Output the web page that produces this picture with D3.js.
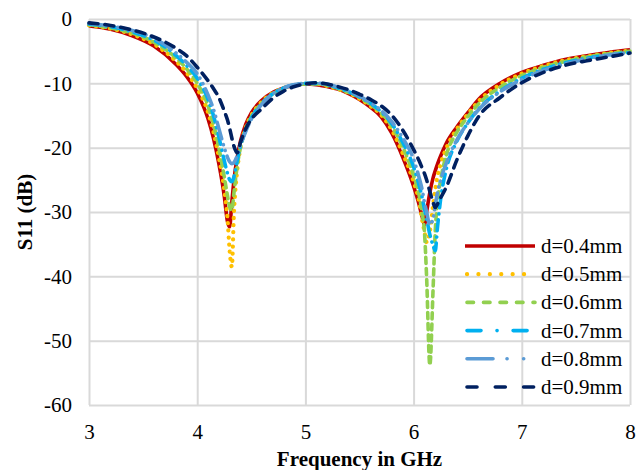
<!DOCTYPE html>
<html>
<head>
<meta charset="utf-8">
<script src="https://cdn.jsdelivr.net/npm/d3@7"></script>
</head>
<body style="margin:0">
<div id="chart"></div>
<script>
// frequency grid (GHz), denser near the two resonances
const freq = [3.0, 3.2, 3.4, 3.6, 3.8, 3.9, 4.0, 4.1, 4.15, 4.2, 4.25, 4.28, 4.3, 4.32, 4.34, 4.37, 4.4, 4.45, 4.5, 4.6,
  4.7, 4.8, 4.9, 5.0, 5.1, 5.2, 5.3, 5.4, 5.5, 5.6, 5.7, 5.8, 5.9, 6.0, 6.05, 6.08, 6.1, 6.12, 6.15, 6.18,
  6.2, 6.22, 6.25, 6.3, 6.4, 6.5, 6.6, 6.8, 7.0, 7.2, 7.4, 7.6, 7.8, 8.0];

// S11 in dB for each gap d
const s11_04 = [-1.1, -1.6, -2.6, -4.2, -7.0, -8.9, -11.5, -15.5, -18.5, -22.5, -27.5, -31.5, -32.3, -28.5, -25.0, -21.5, -19.0, -16.3, -14.6, -12.6,
  -11.4, -10.7, -10.3, -10.1, -10.2, -10.5, -10.9, -11.6, -12.5, -13.7, -15.2, -17.8, -21.5, -26.0, -28.8, -30.8, -32.0, -30.0, -27.0, -24.7,
  -23.6, -22.6, -21.3, -19.4, -16.8, -14.6, -12.5, -10.0, -8.3, -7.2, -6.3, -5.7, -5.2, -4.8];
const s11_05 = [-1.0, -1.5, -2.4, -3.9, -6.5, -8.3, -10.8, -14.5, -17.5, -21.5, -26.5, -31.0, -36.0, -38.5, -30.0, -23.5, -20.0, -16.8, -15.0, -12.8,
  -11.5, -10.7, -10.3, -10.1, -10.1, -10.4, -10.9, -11.5, -12.4, -13.5, -14.9, -17.3, -20.9, -25.3, -28.3, -31.3, -33.0, -34.7, -33.0, -29.0,
  -26.5, -24.5, -22.5, -20.2, -17.1, -14.8, -12.8, -10.2, -8.5, -7.3, -6.4, -5.8, -5.3, -4.9];
const s11_06 = [-0.9, -1.4, -2.2, -3.6, -6.0, -7.7, -10.0, -13.5, -16.3, -20.0, -24.5, -27.5, -29.2, -29.7, -27.0, -22.8, -20.0, -17.0, -15.2, -13.0,
  -11.6, -10.8, -10.3, -10.1, -10.1, -10.3, -10.8, -11.4, -12.2, -13.3, -14.6, -16.7, -19.9, -24.3, -27.3, -30.3, -33.0, -40.0, -53.8, -42.0,
  -33.0, -28.5, -25.0, -21.3, -17.6, -15.2, -13.2, -10.6, -8.8, -7.5, -6.6, -5.9, -5.4, -5.0];
const s11_07 = [-0.8, -1.2, -2.0, -3.3, -5.6, -7.2, -9.2, -12.5, -15.0, -18.3, -22.0, -24.0, -25.0, -25.3, -24.5, -22.0, -19.8, -17.2, -15.4, -13.1,
  -11.6, -10.7, -10.2, -10.0, -10.0, -10.2, -10.7, -11.3, -12.1, -13.1, -14.4, -16.3, -19.2, -23.0, -25.8, -27.8, -29.5, -31.0, -33.5, -35.2,
  -36.0, -32.5, -28.0, -23.5, -19.0, -16.2, -14.0, -11.2, -9.2, -7.8, -6.8, -6.1, -5.6, -5.2];
const s11_08 = [-0.7, -1.1, -1.8, -3.0, -5.2, -6.7, -8.5, -11.8, -14.0, -17.0, -20.0, -21.5, -22.2, -22.5, -22.3, -21.2, -19.6, -17.4, -15.6, -13.2,
  -11.6, -10.7, -10.2, -10.0, -10.0, -10.1, -10.6, -11.2, -12.0, -13.0, -14.2, -16.0, -18.5, -21.8, -24.6, -26.6, -28.5, -30.0, -32.0, -31.0,
  -29.0, -27.0, -25.0, -22.5, -18.8, -16.2, -14.1, -11.3, -9.4, -8.0, -7.0, -6.2, -5.6, -5.2];
const s11_09 = [-0.6, -1.0, -1.7, -2.8, -4.5, -5.7, -7.5, -9.6, -10.8, -12.2, -14.3, -15.7, -17.0, -18.5, -19.8, -20.8, -19.2, -17.0, -15.6, -13.9,
  -12.3, -11.2, -10.5, -10.1, -9.9, -10.1, -10.5, -11.0, -11.7, -12.5, -13.5, -15.0, -17.3, -20.3, -22.0, -23.2, -24.0, -25.0, -26.8, -28.5,
  -29.3, -28.8, -27.8, -26.2, -21.9, -18.2, -15.2, -12.2, -9.9, -8.3, -7.2, -6.5, -5.9, -5.3];

const seriesNames = ['d=0.4mm', 'd=0.5mm', 'd=0.6mm', 'd=0.7mm', 'd=0.8mm', 'd=0.9mm'];
const seriesValues = [s11_04, s11_05, s11_06, s11_07, s11_08, s11_09];
const seriesColors = ['#c00000', '#ffc000', '#92d050', '#00b0f0', '#5b9bd5', '#002060'];
const plotDash = [null, '0.1,7', '6,5', '11,6,0.1,6', '17,6,0.1,6,0.1,6', '9,7'];
const legendDash = [null, '0.1,11.3', '6.5,10', '14,16,0.1,16', '26,14,0.1,16.5,0.1,20', '10,18.3'];

const xTicks = [3, 4, 5, 6, 7, 8];
const yTicks = [0, -10, -20, -30, -40, -50, -60];

const width = 643;
const height = 470;
const margin = { top: 19, right: 13, bottom: 65, left: 89 };
const font = '"Liberation Serif"';

const svg = d3.select('#chart')
  .append('svg')
  .attr('width', width)
  .attr('height', height)
  .style('display', 'block')
  .style('font-family', font);

const xScale = d3.scaleLinear()
  .domain([3, 8])
  .range([margin.left, width - margin.right]);
const yScale = d3.scaleLinear()
  .domain([-60, 0])
  .range([height - margin.bottom, margin.top]);

// grid + tick labels
const xAxis = d3.axisBottom(xScale)
  .tickValues(xTicks)
  .tickFormat(d3.format('d'))
  .tickSizeInner(-(height - margin.top - margin.bottom))
  .tickSizeOuter(0)
  .tickPadding(19);
const yAxis = d3.axisLeft(yScale)
  .tickValues(yTicks)
  .tickFormat(d => d === 0 ? '0' : '-' + Math.abs(d))
  .tickSizeInner(-(width - margin.left - margin.right))
  .tickSizeOuter(0)
  .tickPadding(17);

const gx = svg.append('g')
  .attr('class', 'x-axis-container')
  .attr('transform', `translate(0, ${height - margin.bottom})`)
  .call(xAxis);
const gy = svg.append('g')
  .attr('class', 'y-axis-container')
  .attr('transform', `translate(${margin.left}, 0)`)
  .call(yAxis);

[gx, gy].forEach(g => {
  g.attr('font-family', null).attr('font-size', null);
  g.select('.domain').remove();
  g.selectAll('line')
    .attr('stroke', '#d9d9d9')
    .attr('stroke-width', 2);
  g.selectAll('text')
    .style('font-family', font)
    .attr('font-size', 21)
    .attr('fill', '#000');
});

// axis titles
svg.append('text')
  .attr('x', (margin.left + width - margin.right) / 2)
  .attr('y', 466)
  .attr('text-anchor', 'middle')
  .attr('font-weight', 'bold')
  .attr('font-size', 21)
  .style('font-family', font)
  .text('Frequency in GHz');
svg.append('text')
  .attr('transform', `translate(32, ${(margin.top + height - margin.bottom) / 2}) rotate(-90)`)
  .attr('text-anchor', 'middle')
  .attr('font-weight', 'bold')
  .attr('font-size', 21)
  .style('font-family', font)
  .text('S11 (dB)');

// curves
const line = d3.line()
  .x((d, i) => xScale(freq[i]))
  .y(d => yScale(d))
  .curve(d3.curveMonotoneX);

const plot = svg.append('g').attr('class', 'plot-container');
seriesValues.forEach((values, i) => {
  plot.append('path')
    .datum(values)
    .attr('fill', 'none')
    .attr('stroke', seriesColors[i])
    .attr('stroke-width', i === 1 ? 4.2 : 3.6)
    .attr('stroke-linecap', i === 0 ? 'butt' : 'round')
    .attr('stroke-linejoin', 'round')
    .attr('stroke-dasharray', plotDash[i])
    .attr('d', line);
});

// legend
const legend = svg.append('g')
  .attr('class', 'legend-container')
  .attr('transform', 'translate(465, 246)');
seriesNames.forEach((name, i) => {
  const row = legend.append('g').attr('transform', `translate(0, ${i * 28.2})`);
  row.append('line')
    .attr('x1', i === 0 ? 0 : 2)
    .attr('x2', 70)
    .attr('y1', 0)
    .attr('y2', 0)
    .attr('stroke', seriesColors[i])
    .attr('stroke-width', i === 1 ? 4.2 : 3.6)
    .attr('stroke-linecap', i === 0 ? 'butt' : 'round')
    .attr('stroke-dasharray', legendDash[i]);
  row.append('text')
    .attr('x', 76)
    .attr('y', 7)
    .attr('font-size', 21)
    .attr('fill', '#000')
    .style('font-family', font)
    .text(name);
});
</script>
</body>
</html>
